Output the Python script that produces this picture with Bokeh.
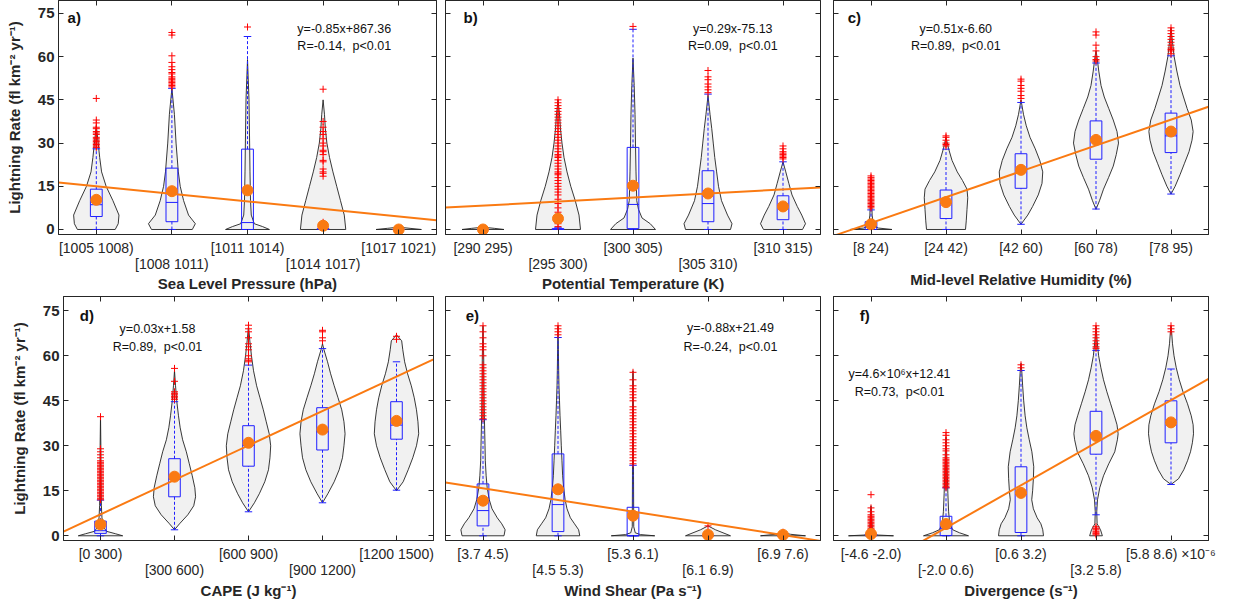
import numpy as np
from bokeh.plotting import figure
from bokeh.models import Range1d, FixedTicker, LinearAxis
from bokeh.layouts import column, row
from bokeh.embed import file_html
from bokeh.resources import INLINE
from bokeh.core.properties import value

# ---------------- data ----------------
ylabel = "Lightning Rate (fl km\u207b\u00b2 yr\u207b\u00b9)"

# Panel a
cats_a = ["[1005 1008)", "[1008 1011)", "[1011 1014)", "[1014 1017)", "[1017 1021)"]
viol_a_y = [[0, 2, 5, 10, 15, 20, 25, 30, 36],
            [0, 2, 5, 10, 15, 20, 30, 40, 49],
            [0, 1, 2, 5, 10, 20, 30, 45, 59],
            [0, 5, 10, 15, 20, 25, 30, 35, 40, 45],
            [0, 0.4, 0.8]]
viol_a_w = [[0.25, 0.29, 0.30, 0.22, 0.13, 0.07, 0.045, 0.025, 0],
            [0.27, 0.31, 0.22, 0.155, 0.11, 0.085, 0.055, 0.033, 0],
            [0.29, 0.2, 0.09, 0.05, 0.04, 0.033, 0.028, 0.02, 0],
            [0.30, 0.28, 0.23, 0.18, 0.13, 0.085, 0.05, 0.03, 0.018, 0],
            [0.3, 0.15, 0]]
q1_a = [4.5, 2.7, 0, 0, 0]
med_a = [8.6, 9.4, 2.4, 0, 0]
q3_a = [14.0, 21.3, 27.9, 0.3, 0.1]
wlo_a = [0, 0, 0, 0, 0]
whi_a = [28, 49, 67, 0.8, 0.2]
mean_a = [10.3, 13.3, 13.6, 1.3, 0]
out_a = [[28.5, 29, 29.5, 30, 30.5, 31, 31.5, 32, 33, 33.5, 34, 35, 35.5, 37, 38, 45.5],
         [49.5, 50, 50.5, 51, 51.5, 52, 52.5, 53, 54, 54.5, 55.5, 56.5, 58, 60.3, 67.5, 68.4],
         [70.3],
         [2.5, 18.5, 19.5, 20, 21, 23.5, 24, 26, 27, 27.5, 29, 30, 31.5, 33, 34, 35.5, 37.5, 48.7],
         []]
fit_a = [16.3, 3.2]

# Panel b
cats_b = ["[290 295)", "[295 300)", "[300 305)", "[305 310)", "[310 315)"]
viol_b_y = [[0, 0.4, 0.8],
            [0, 5, 10, 15, 20, 25, 30, 35, 40, 45],
            [0, 2, 4, 7, 10, 20, 30, 40, 50, 59.5],
            [0, 2, 5, 10, 15, 20, 25, 30, 35, 40, 46.5],
            [0, 2, 5, 8, 12, 16, 20, 23.5]]
viol_b_w = [[0.28, 0.15, 0],
            [0.30, 0.28, 0.23, 0.17, 0.12, 0.08, 0.053, 0.033, 0.02, 0],
            [0.30, 0.23, 0.12, 0.073, 0.05, 0.04, 0.033, 0.027, 0.016, 0],
            [0.30, 0.32, 0.26, 0.18, 0.14, 0.115, 0.09, 0.07, 0.05, 0.027, 0],
            [0.26, 0.30, 0.25, 0.19, 0.12, 0.078, 0.037, 0]]
q1_b = [0, 0, 0.3, 2.7, 3.4]
med_b = [0, 0, 8.7, 9.0, 8.3]
q3_b = [0.1, 0.3, 28.5, 20.4, 11.7]
wlo_b = [0, 0, 0, 0, 0]
whi_b = [0.2, 0.6, 69.5, 47, 23.5]
mean_b = [0, 3.8, 15.2, 12.5, 8.0]
out_b = [[],
         [1, 2, 3, 4.5, 6, 7.5, 9, 10.5, 12, 13, 14, 15, 16, 17, 18, 19, 19.5, 20, 21, 22, 23, 24,
          25, 25.5, 26, 27, 28, 29, 30, 31, 32, 33, 34, 35, 36, 37, 38, 39, 40, 41, 42, 43, 44, 45],
         [70.5],
         [47.5, 48.5, 49.5, 50.5, 52, 53, 55.2],
         [24.5, 25, 25.5, 26, 26.5, 27, 28, 29]]
fit_b = [7.6, 14.6]

# Panel c
cats_c = ["[8 24)", "[24 42)", "[42 60)", "[60 78)", "[78 95)"]
viol_c_y = [[0, 0.5, 1, 2, 5, 10, 17],
            [0, 3, 7, 11, 14, 17, 20, 24, 28, 32],
            [1.8, 5, 8, 12, 16, 20, 24, 28, 32, 36, 40, 45],
            [7, 10, 14, 18, 22, 26, 30, 34, 38, 42, 46, 50, 55, 60, 62],
            [12.3, 15, 19, 23, 27, 31, 34, 38, 42, 46, 50, 55, 60, 65, 70]]
viol_c_w = [[0.28, 0.1, 0.05, 0.03, 0.015, 0.01, 0],
            [0.26, 0.27, 0.28, 0.29, 0.28, 0.22, 0.15, 0.08, 0.035, 0],
            [0, 0.09, 0.155, 0.23, 0.28, 0.29, 0.25, 0.19, 0.12, 0.07, 0.033, 0],
            [0, 0.047, 0.1, 0.167, 0.23, 0.27, 0.30, 0.28, 0.23, 0.17, 0.11, 0.067, 0.037, 0.013, 0],
            [0, 0.055, 0.12, 0.18, 0.24, 0.28, 0.295, 0.27, 0.215, 0.167, 0.12, 0.078, 0.042, 0.02, 0]]
q1_c = [0, 3.8, 14.3, 24.4, 26.7]
med_c = [1.0, 9.1, 20.5, 31.4, 32.5]
q3_c = [2.7, 13.7, 26.3, 37.7, 40.4]
wlo_c = [0, 0, 1.8, 7.1, 12.3]
whi_c = [6.8, 27.9, 44.1, 57.8, 60.3]
mean_c = [1.8, 9.5, 20.7, 31.1, 34.0]
out_c = [[7.5, 8, 8.5, 9, 9.5, 10, 10.5, 11, 11.5, 12, 12.5, 13, 13.5, 14, 14.5, 15, 15.5, 16,
          16.5, 17, 17.5, 18, 18.6],
         [29, 29.5, 30, 31, 32, 32.5],
         [45.5, 46.5, 48, 49, 50, 51.5, 52.2],
         [58.5, 59, 60, 62, 64, 67.5, 68.6],
         [61, 62, 62.5, 63, 64, 65, 66, 67, 68, 69, 70]]
fit_c = [-2.2, 42.6]

# Panel d
cats_d = ["[0 300)", "[300 600)", "[600 900)", "[900 1200)", "[1200 1500)"]
viol_d_y = [[0, 0.7, 1.5, 3, 6, 10, 20, 30, 40],
            [2, 4, 7, 10, 13, 16, 20, 24, 28, 32, 36, 40, 45, 50, 55],
            [8, 11, 14, 18, 22, 26, 30, 34, 38, 42, 46, 50, 55, 60, 65, 70],
            [11, 14, 18, 22, 26, 30, 34, 38, 42, 46, 50, 54, 58, 62, 64],
            [15, 18, 22, 26, 30, 34, 38, 42, 46, 50, 54, 58, 62, 65, 67]]
viol_d_w = [[0.30, 0.2, 0.08, 0.04, 0.02, 0.012, 0.008, 0.005, 0],
            [0, 0.068, 0.18, 0.26, 0.285, 0.275, 0.24, 0.2, 0.16, 0.11, 0.077, 0.054, 0.03, 0.014, 0],
            [0, 0.08, 0.146, 0.22, 0.27, 0.29, 0.30, 0.28, 0.24, 0.2, 0.155, 0.11, 0.068, 0.04, 0.018, 0],
            [0, 0.072, 0.158, 0.225, 0.27, 0.29, 0.305, 0.29, 0.26, 0.21, 0.158, 0.11, 0.068, 0.02, 0],
            [0, 0.09, 0.158, 0.22, 0.27, 0.30, 0.29, 0.27, 0.24, 0.2, 0.15, 0.11, 0.085, 0.07, 0]]
q1_d = [0.8, 13, 23.2, 28.6, 32.2]
med_d = [1.7, 18.9, 30.1, 34.7, 36.9]
q3_d = [4.9, 25.7, 36.7, 42.7, 44.7]
wlo_d = [0, 2.0, 8, 11, 15.2]
whi_d = [11.9, 44.7, 56.9, 62.4, 58]
mean_d = [3.8, 19.7, 31, 35.4, 38.3]
out_d = [[12, 12.5, 13, 13.5, 14, 14.5, 15, 15.5, 16, 16.5, 17, 17.5, 18, 18.5, 19, 19.5, 20, 20.5,
          21, 21.5, 22, 22.5, 23, 23.5, 24, 24.5, 25, 26, 27, 28, 29, 39.7],
         [45.5, 46, 46.5, 47, 47.5, 48, 51.5, 55.8],
         [58, 58.5, 59, 60, 62, 63, 64, 66, 68, 69, 70.2],
         [65, 66, 68, 68.5],
         [65.5, 66.5]]
fit_d = [1.4, 58.8]

# Panel e
cats_e = ["[3.7 4.5)", "[4.5 5.3)", "[5.3 6.1)", "[6.1 6.9)", "[6.9 7.6)"]
viol_e_y = [[0, 2, 4, 6, 9, 12, 16, 20, 25, 30, 40, 50, 60, 70],
            [0, 2, 4, 6, 9, 12, 16, 20, 25, 30, 35, 40, 45, 50, 55, 62, 70],
            [0, 0.4, 1, 3, 20, 40, 54, 55],
            [0, 1, 2, 3.3],
            [0, 0.5, 1.1]]
viol_e_w = [[0.28, 0.295, 0.25, 0.19, 0.12, 0.084, 0.056, 0.042, 0.031, 0.027, 0.018, 0.013, 0.009, 0],
            [0.29, 0.275, 0.22, 0.165, 0.12, 0.095, 0.075, 0.062, 0.053, 0.044, 0.036, 0.027, 0.02,
             0.013, 0.009, 0.005, 0],
            [0.29, 0.1, 0.03, 0.01, 0.007, 0.006, 0.004, 0],
            [0.30, 0.2, 0.1, 0],
            [0.30, 0.1, 0]]
q1_e = [3.3, 1.4, 0, 0, 0]
med_e = [8.4, 10.4, 0, 0, 0]
q3_e = [17.3, 27.3, 9.5, 0.2, 0.1]
wlo_e = [0, 0, 0, 0, 0]
whi_e = [38.7, 66.1, 23.5, 1, 0.5]
mean_e = [11.7, 15.5, 6.7, 0.3, 0.3]
out_e = [[39, 40, 41, 42, 43, 44, 45, 46, 47, 48, 49, 50, 51, 52, 53, 54, 55, 56, 57, 60, 62, 63,
          64, 66, 68, 70],
         [67, 68, 69, 70],
         [24, 25, 26, 27, 28, 29, 30, 31, 32, 33, 34, 35, 36, 37, 38, 39, 40, 41, 42, 43, 45, 46,
          47, 48, 49, 50, 52, 54.5],
         [3.3],
         [1.2]]
fit_e = [17.8, -1.7]

# Panel f
cats_f = ["[-4.6 -2.0)", "[-2.0 0.6)", "[0.6 3.2)", "[3.2 5.8)", "[5.8 8.6) \u00d710\u207b\u2076"]
viol_f_y = [[0, 0.3, 1, 9, 10],
            [0, 1, 2, 4, 8, 14, 20, 25, 30, 33],
            [0, 2, 4, 6, 9, 12, 15, 19, 23, 28, 32, 36, 40, 45, 50, 55, 57.5],
            [0, 2, 4, 8, 12, 16, 20, 24, 28, 32, 34, 37, 40, 44, 48, 52, 56, 60, 65, 70],
            [17.1, 19, 22, 25, 28, 31, 34, 37, 40, 44, 48, 52, 56, 60, 64, 68, 70]]
viol_f_w = [[0.30, 0.05, 0.02, 0.005, 0],
            [0.30, 0.18, 0.09, 0.05, 0.035, 0.025, 0.018, 0.012, 0.006, 0],
            [0.30, 0.29, 0.265, 0.215, 0.165, 0.143, 0.155, 0.165, 0.17, 0.145, 0.11, 0.078, 0.055,
             0.036, 0.022, 0.01, 0],
            [0.085, 0.06, 0.015, 0.01, 0.02, 0.05, 0.1, 0.17, 0.25, 0.285, 0.295, 0.28, 0.245, 0.195,
             0.145, 0.1, 0.065, 0.035, 0.015, 0],
            [0, 0.1, 0.17, 0.22, 0.26, 0.285, 0.3, 0.295, 0.27, 0.22, 0.16, 0.11, 0.07, 0.04, 0.02,
             0.008, 0]]
q1_f = [0, 0.1, 1.1, 27.2, 31]
med_f = [0.2, 2.5, 13.8, 33.6, 37.8]
q3_f = [0.6, 6.5, 23, 41.5, 45]
wlo_f = [0, 0, 0, 7.0, 17.1]
whi_f = [0.9, 16, 55.1, 61.8, 55.6]
mean_f = [0.6, 3.9, 14.3, 33.3, 37.8]
out_f = [[1, 1.5, 2, 2.5, 3, 3.5, 4, 4.5, 5, 5.5, 6, 6.5, 7, 8, 9.3, 13.7],
         [16, 16.5, 17, 17.5, 18, 18.5, 19, 19.5, 20, 20.5, 21, 21.5, 22, 22.5, 23, 23.5, 24, 24.5,
          25, 25.5, 26, 27, 28.3, 29, 30, 31, 32, 33.5, 34.4],
         [56, 57],
         [0.3, 0.7, 1, 1.5, 2, 2.5, 3, 62.5, 63, 64, 65, 66, 67, 68, 69, 70],
         [68, 69, 70]]
fit_f = [-18.6, 52.3]

xlabels = ["Sea Level Pressure (hPa)", "Potential Temperature (K)", "Mid-level Relative Humidity (%)",
           "CAPE (J kg\u207b\u00b9)", "Wind Shear (Pa s\u207b\u00b9)", "Divergence (s\u207b\u00b9)"]
tags = ["a)", "b)", "c)", "d)", "e)", "f)"]
eqs = ["y=-0.85x+867.36", "y=0.29x-75.13", "y=0.51x-6.60",
       "y=0.03x+1.58", "y=-0.88x+21.49", "y=4.6\u00d710\u2076x+12.41"]
rtxt = ["R=-0.14,\u00a0\u00a0p<0.01", "R=0.09,\u00a0\u00a0p<0.01", "R=0.89,\u00a0\u00a0p<0.01",
        "R=0.89,\u00a0\u00a0p<0.01", "R=-0.24,\u00a0\u00a0p<0.01", "R=0.73,\u00a0\u00a0p<0.01"]

# ---------------- styling ----------------
FONT = "Liberation Sans"
TXT = "#262626"
BLUE = "#1f1fff"
ORANGE = "#fa7a12"
YTICKS = [0, 15, 30, 45, 60, 75]
POS = [1, 2, 3, 4, 5]


def blank_axis(ticks):
    return LinearAxis(ticker=FixedTicker(ticks=ticks), major_tick_in=5, major_tick_out=0,
                      minor_tick_line_color=None, major_label_text_font_size="0px",
                      major_label_text_color=None, major_label_standoff=0,
                      axis_line_color=TXT, major_tick_line_color=TXT)


def build(cats, vy, vw, q1, med, q3, wlo, whi, mean, outl, fit, idx, fw, fh, yr,
          bl, br, bt, bb, stagger, xl_standoff, tagpos, eqpos, rpos, show_y):
    p = figure(frame_width=fw, frame_height=fh, x_range=Range1d(0.5, 5.5), y_range=Range1d(*yr),
               output_backend="svg", toolbar_location=None,
               min_border_left=bl, min_border_right=br, min_border_top=bt, min_border_bottom=bb)
    p.xgrid.visible = False
    p.ygrid.visible = False
    p.outline_line_color = TXT
    p.outline_line_width = 1

    xa = p.xaxis[0]
    xa.ticker = FixedTicker(ticks=POS)
    ov = {}
    for i, c in enumerate(cats):
        ov[i + 1] = ("\n" + c) if (stagger and i % 2 == 1) else c
    xa.major_label_overrides = ov
    xa.major_tick_in = 5
    xa.major_tick_out = 0
    xa.minor_tick_line_color = None
    xa.major_tick_line_color = TXT
    xa.axis_line_color = TXT
    xa.major_label_standoff = 5
    xa.major_label_text_font = FONT
    xa.major_label_text_font_size = "14px"
    xa.major_label_text_line_height = 1.0
    xa.major_label_text_color = TXT
    xa.axis_label = xlabels[idx]
    xa.axis_label_text_font = FONT
    xa.axis_label_text_font_size = "15px"
    xa.axis_label_text_font_style = "bold"
    xa.axis_label_text_color = TXT
    xa.axis_label_standoff = xl_standoff

    ya = p.yaxis[0]
    ya.ticker = FixedTicker(ticks=YTICKS)
    ya.major_tick_in = 5
    ya.major_tick_out = 0
    ya.minor_tick_line_color = None
    ya.major_tick_line_color = TXT
    ya.axis_line_color = TXT
    if show_y:
        ya.major_label_standoff = 4
        ya.major_label_text_font = FONT
        ya.major_label_text_font_size = "15px"
        ya.major_label_text_font_style = "bold"
        ya.major_label_text_color = TXT
        ya.axis_label = ylabel
        ya.axis_label_text_font = FONT
        ya.axis_label_text_font_size = "15px"
        ya.axis_label_text_font_style = "bold"
        ya.axis_label_text_color = TXT
        ya.axis_label_standoff = 12
    else:
        ya.major_label_text_font_size = "0px"
        ya.major_label_text_color = None
        ya.major_label_standoff = 0

    p.add_layout(blank_axis(YTICKS), "right")
    p.add_layout(blank_axis(POS), "above")

    # violins
    xs, ys = [], []
    for i in range(5):
        yy = np.array(vy[i], dtype=float)
        ww = np.array(vw[i], dtype=float)
        c = POS[i]
        xs.append(list(c - ww) + list((c + ww)[::-1]))
        ys.append(list(yy) + list(yy[::-1]))
    p.patches(xs, ys, fill_color="#f1f1f1", line_color="#222222", line_width=0.9)

    bw = 0.078
    cw = 0.05
    cx = np.array(POS, dtype=float)
    # whiskers
    p.segment(x0=cx, y0=q3, x1=cx, y1=whi, line_color=BLUE, line_width=1, line_dash="3 2")
    p.segment(x0=cx, y0=wlo, x1=cx, y1=q1, line_color=BLUE, line_width=1, line_dash="3 2")
    p.segment(x0=cx - cw, y0=whi, x1=cx + cw, y1=whi, line_color=BLUE, line_width=1)
    p.segment(x0=cx - cw, y0=wlo, x1=cx + cw, y1=wlo, line_color=BLUE, line_width=1)
    # boxes
    p.quad(left=cx - bw, right=cx + bw, bottom=q1, top=q3, fill_color=None,
           line_color=BLUE, line_width=1)
    p.segment(x0=cx - bw, y0=med, x1=cx + bw, y1=med, line_color=BLUE, line_width=1)
    # outliers
    ox, oy = [], []
    for i in range(5):
        for v in outl[i]:
            ox.append(POS[i])
            oy.append(v)
    p.scatter(ox, oy, marker="cross", size=7, line_color="#ff0000", line_width=1)
    # regression
    p.line([0.5, 5.5], fit, line_color=ORANGE, line_width=2)
    # means
    p.scatter(cx, mean, marker="circle", size=11, fill_color=ORANGE, line_color=ORANGE)

    # annotations
    p.text(x=[tagpos[0]], y=[tagpos[1]], text=[tags[idx]], text_font=value(FONT),
           text_font_size="15px", text_font_style="bold", text_color="#111111",
           text_align="left", text_baseline="middle")
    p.text(x=[eqpos[0], rpos[0]], y=[eqpos[1], rpos[1]], text=[eqs[idx], rtxt[idx]],
           text_font=value(FONT), text_font_size="12.5px", text_color="#111111",
           text_align="center", text_baseline="middle")
    return p


TOP_YR = (-1.74, 79.5)
BOT_YR = (-1.57, 79.77)

pa = build(cats_a, viol_a_y, viol_a_w, q1_a, med_a, q3_a, wlo_a, whi_a, mean_a, out_a, fit_a, 0,
           378, 234, TOP_YR, 58, 4, 0, 56, True, 0, (0.62, 73.6), (4.28, 69.5), (4.28, 63.8), True)
pb = build(cats_b, viol_b_y, viol_b_w, q1_b, med_b, q3_b, wlo_b, whi_b, mean_b, out_b, fit_b, 1,
           375, 234, TOP_YR, 5, 6, 0, 56, True, 0, (0.74, 73.6), (4.33, 69.5), (4.33, 63.8), False)
pc = build(cats_c, viol_c_y, viol_c_w, q1_c, med_c, q3_c, wlo_c, whi_c, mean_c, out_c, fit_c, 2,
           375, 234, TOP_YR, 7, 15, 0, 56, False, 12, (0.69, 73.6), (2.13, 69.5), (2.13, 63.8), False)
pd_ = build(cats_d, viol_d_y, viol_d_w, q1_d, med_d, q3_d, wlo_d, whi_d, mean_d, out_d, fit_d, 3,
            370, 244, BOT_YR, 63, 7, 2, 54, True, 1, (0.72, 73.5), (1.77, 69.1), (1.77, 63.0), True)
pe = build(cats_e, viol_e_y, viol_e_w, q1_e, med_e, q3_e, wlo_e, whi_e, mean_e, out_e, fit_e, 4,
           375, 244, BOT_YR, 5, 6, 2, 54, True, 1, (0.77, 73.5), (4.3, 69.4), (4.3, 63.0), False)
pf = build(cats_f, viol_f_y, viol_f_w, q1_f, med_f, q3_f, wlo_f, whi_f, mean_f, out_f, fit_f, 5,
           375, 244, BOT_YR, 7, 15, 2, 54, True, 1, (0.85, 73.5), (1.38, 54.0), (1.38, 48.0), False)

layout = column(row(pa, pb, pc), row(pd_, pe, pf))
open("out.html", "w").write(file_html(layout, INLINE))
